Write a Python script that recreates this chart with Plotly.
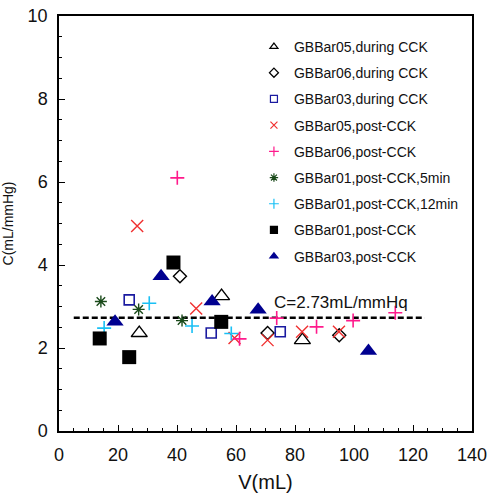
import plotly.graph_objects as go

# ---- data ----
series_names = [
    "GBBar05,during CCK", "GBBar06,during CCK", "GBBar03,during CCK",
    "GBBar05,post-CCK", "GBBar06,post-CCK", "GBBar01,post-CCK,5min",
    "GBBar01,post-CCK,12min", "GBBar01,post-CCK", "GBBar03,post-CCK",
]
bar05_during_v = [27.2, 55.1, 82.5]
bar05_during_c = [2.36, 3.25, 2.19]
bar06_during_v = [41.0, 70.7, 95.0]
bar06_during_c = [3.73, 2.36, 2.31]
bar03_during_v = [23.8, 51.6, 75.0]
bar03_during_c = [3.16, 2.36, 2.39]
bar05_post_v = [26.5, 46.5, 59.5, 70.7, 82.4, 94.9]
bar05_post_c = [4.94, 2.95, 2.24, 2.19, 2.39, 2.39]
bar06_post_v = [40.1, 61.2, 73.8, 87.3, 99.7, 114.0]
bar06_post_c = [6.10, 2.22, 2.72, 2.51, 2.66, 2.85]
bar01_post5_v = [14.2, 27.0, 41.7]
bar01_post5_c = [3.12, 2.93, 2.66]
bar01_post12_v = [15.3, 30.6, 45.1, 58.4]
bar01_post12_c = [2.48, 3.08, 2.53, 2.35]
bar01_post_v = [13.8, 23.8, 38.8, 55.0]
bar01_post_c = [2.23, 1.78, 4.06, 2.63]
bar03_post_v = [19.0, 34.6, 51.9, 67.5, 104.9]
bar03_post_c = [2.63, 3.73, 3.12, 2.92, 1.93]

fit_v = [5, 124]
fit_c = [2.73, 2.73]
fit_label = "C=2.73mL/mmHq"

x_ticks = [0, 20, 40, 60, 80, 100, 120, 140]
y_ticks = [0, 2, 4, 6, 8, 10]

series_v = [bar05_during_v, bar06_during_v, bar03_during_v, bar05_post_v, bar06_post_v,
            bar01_post5_v, bar01_post12_v, bar01_post_v, bar03_post_v]
series_c = [bar05_during_c, bar06_during_c, bar03_during_c, bar05_post_c, bar06_post_c,
            bar01_post5_c, bar01_post12_c, bar01_post_c, bar03_post_c]

# ---- styles ----
styles = [
    dict(symbol="triangle-up-open", color="black", size=14, lw=1.4),
    dict(symbol="diamond-open", color="black", size=10, lw=1.4),
    dict(symbol="square-open", color="#1a1aa0", size=10, lw=1.6),
    dict(symbol="x-thin-open", color="#f03030", size=12, lw=1.4),
    dict(symbol="cross-thin-open", color="#ff1a8c", size=10, lw=1.6),
    dict(symbol="asterisk-open", color="#1a4a1a", size=10, lw=1.4),
    dict(symbol="cross-thin-open", color="#19c0f5", size=10, lw=1.6),
    dict(symbol="square", color="black", size=14, lw=0),
    dict(symbol="triangle-up", color="#000090", size=15, lw=0),
]

fig = go.Figure()

fig.add_trace(go.Scatter(x=fit_v, y=fit_c, mode="lines",
                         line=dict(color="black", width=2.5, dash="6px,3px"),
                         showlegend=False, hoverinfo="skip"))

for name, v, c, s in zip(series_names, series_v, series_c, styles):
    fig.add_trace(go.Scatter(
        x=v, y=c, mode="markers", name=name, showlegend=False,
        marker=dict(symbol=s["symbol"], size=s["size"], color=s["color"],
                    line=dict(color=s["color"], width=s["lw"])),
    ))

# legend-only traces with smaller symbols
for i, (name, s) in enumerate(zip(series_names, styles)):
    fig.add_trace(go.Scatter(
        x=[None], y=[None], mode="markers", name=name, legendgroup=f"g{i}",
        marker=dict(symbol=s["symbol"], size=7, color=s["color"],
                    line=dict(color=s["color"], width=1.2)),
    ))

fig.add_annotation(x=fit_v[0] + 67.3, y=3.1, xref="x", yref="y", text=fit_label,
                   showarrow=False, xanchor="left", yanchor="middle",
                   font=dict(family="Liberation Sans, Arial", size=17, color="#111"))

axis_common = dict(showgrid=False, zeroline=False, showline=True, mirror=True,
                   linecolor="black", linewidth=1.5, ticks="inside", ticklen=6,
                   tickcolor="black", tickwidth=1.2, automargin=False,
                   ticklabeloverflow="allow",
                   tickfont=dict(family="Liberation Sans, Arial", size=18, color="#111"))

fig.update_xaxes(range=[0, 140], tickvals=x_ticks, **axis_common, ticklabelstandoff=7,
                 minor=dict(dtick=5, ticks="inside", ticklen=3, tickcolor="black", tickwidth=1),
                 title=dict(text="V(mL)", font=dict(family="Liberation Sans, Arial", size=20, color="#111"),
                            standoff=11))
fig.update_yaxes(range=[0, 10], tickvals=y_ticks, **axis_common, ticklabelstandoff=6,
                 minor=dict(dtick=0.5, ticks="inside", ticklen=3, tickcolor="black", tickwidth=1),
                 title=dict(text="C(mL/mmHg)", font=dict(family="Liberation Sans, Arial", size=14, color="#111"),
                            standoff=15))

fig.update_layout(
    width=492, height=502,
    margin=dict(l=59, r=20, t=16, b=71),
    plot_bgcolor="white", paper_bgcolor="white",
    legend=dict(x=0.472, y=0.964, xanchor="left", yanchor="top",
                bgcolor="rgba(0,0,0,0)", tracegroupgap=5,
                font=dict(family="Liberation Sans, Arial", size=14, color="#111")),
)

# remove the browser's default 8px body margin so the figure fills the window
fig.write_html("out.html", config={"displayModeBar": False},
               post_script="document.body.style.margin='0';document.body.style.overflow='hidden';")
